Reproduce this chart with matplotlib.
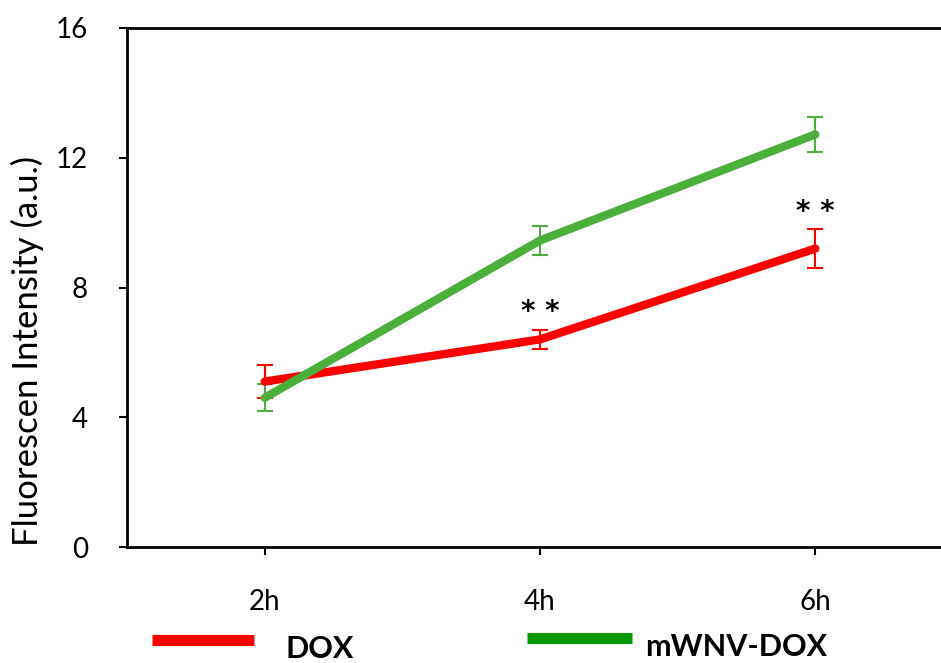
import matplotlib.pyplot as plt
from matplotlib.lines import Line2D

# data
times = ["2h", "4h", "6h"]
dox = [5.1, 6.4, 9.2]
dox_err = [0.5, 0.3, 0.6]
mwnv = [4.6, 9.45, 12.72]
mwnv_err = [0.42, 0.45, 0.55]
stars = ["", "* *", "* *"]

plt.rcParams["font.family"] = ["Lato", "DejaVu Sans"]

fig = plt.figure(figsize=(9.41, 6.63), dpi=100)
# axes runs past the right edge, like the cropped original
ax = fig.add_axes([127/941, (663-547)/663, 826/941, 519/663])

x = list(range(len(times)))
ax.plot(x, dox, color="#ff0000", lw=6, solid_capstyle="round", zorder=3)
ax.errorbar(x, dox, yerr=dox_err, fmt="none", ecolor="#ff0000", elinewidth=1.5,
            capsize=6, capthick=1.5, zorder=2)
ax.plot(x, mwnv, color="#4caf3c", lw=6, solid_capstyle="round", zorder=4)
ax.errorbar(x, mwnv, yerr=mwnv_err, fmt="none", ecolor="#4caf3c", elinewidth=1.5,
            capsize=6, capthick=1.5, zorder=2)

for i, s in enumerate(stars):
    if s:
        ax.text(x[i], dox[i] + dox_err[i] + 0.1, s, ha="center", va="bottom",
                fontsize=20, fontweight="bold", fontfamily="DejaVu Sans")

ax.set_xlim(-0.5, 2.5)
ax.set_ylim(0, 16)
ax.set_yticks([0, 4, 8, 12, 16])
ax.set_xticks(x)
ax.set_xticklabels(times)
ax.tick_params(axis="x", length=6, width=1.5, pad=24, labelsize=20)
ax.tick_params(axis="y", length=6, width=1.5, pad=22, labelsize=20)
for sp in ["left", "bottom", "top"]:
    ax.spines[sp].set_linewidth(2)
ax.spines["right"].set_visible(False)
ax.set_ylabel("Fluorescen Intensity (a.u.)", fontsize=25, va="center")
ax.yaxis.set_label_coords(-0.12, 0.378)

# legend drawn in figure coords
fig.add_artist(Line2D([152/941, 254/941], [1-640/663, 1-640/663], color="#ff0000",
                      lw=8, solid_capstyle="butt"))
fig.add_artist(Line2D([527/941, 632/941], [1-638/663, 1-638/663], color="#009900",
                      lw=8, solid_capstyle="butt"))
fig.text(285/941, 1-658/663, "DOX", fontsize=22, fontweight="bold", va="baseline")
fig.text(645/941, 1-656/663, "mWNV-DOX", fontsize=22, fontweight="bold", va="baseline")

fig.savefig("out.png", dpi=100)
